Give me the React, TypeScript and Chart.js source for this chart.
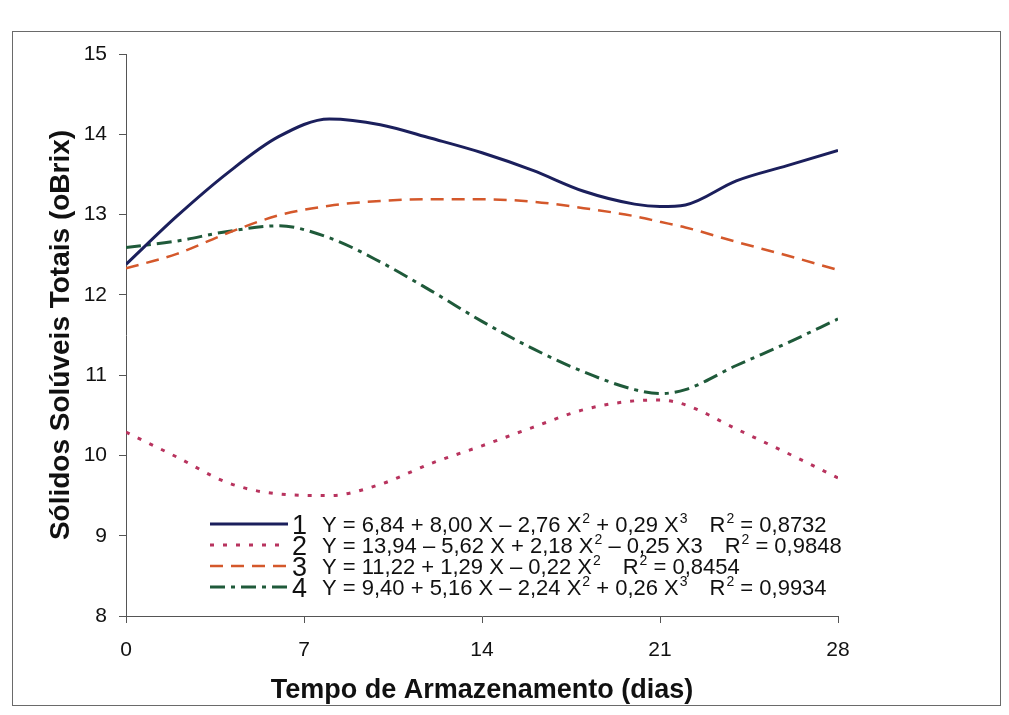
import React, { useEffect, useRef } from "react";
import { Chart, registerables } from "chart.js";

Chart.register(...registerables);

// ---- data ----
const days = [0, 2, 4, 6, 8, 10, 12, 14, 16, 18, 20, 21, 22, 24, 26, 28];
const serie1 = [12.38, 12.98, 13.52, 13.97, 14.19, 14.12, 13.95, 13.77, 13.55, 13.29, 13.13, 13.1, 13.12, 13.42, 13.61, 13.8];
const serie2 = [10.29, 9.98, 9.66, 9.52, 9.5, 9.64, 9.9, 10.12, 10.35, 10.57, 10.68, 10.69, 10.63, 10.33, 10.03, 9.72];
const serie3 = [12.33, 12.51, 12.77, 12.99, 13.11, 13.17, 13.19, 13.19, 13.16, 13.08, 12.98, 12.91, 12.84, 12.66, 12.49, 12.31];
const serie4 = [12.59, 12.67, 12.79, 12.86, 12.71, 12.41, 12.05, 11.67, 11.33, 11.04, 10.82, 10.77, 10.82, 11.12, 11.4, 11.7];

const seriesNames = ["1", "2", "3", "4"];
const equations = [
  "Y = 6,84 + 8,00 X – 2,76 X^2 + 0,29 X^3",
  "Y = 13,94 – 5,62 X + 2,18 X^2 – 0,25 X3",
  "Y = 11,22 + 1,29 X – 0,22 X^2",
  "Y = 9,40 + 5,16 X – 2,24 X^2 + 0,26 X^3",
];
const r2Labels = ["R^2 = 0,8732", "R^2 = 0,9848", "R^2 = 0,8454", "R^2 = 0,9934"];

const xTitle = "Tempo de Armazenamento (dias)";
const yTitle = "Sólidos Solúveis Totais (oBrix)";
const yMin = 8;
const yMax = 15;
const xMin = 0;
const xMax = 28;
const xStep = 7;

// ---- styles ----
const colors = ["#1b1f5c", "#b8335e", "#d4582b", "#1f5a3a"];
const dashes: number[][] = [[], [4, 9], [13, 8], [15, 6, 4, 6]];
const widths = [3, 3, 2.5, 3];
const FONT = "'Liberation Sans', Arial, sans-serif";

function drawRich(ctx: CanvasRenderingContext2D, text: string, x: number, y: number, size: number) {
  const parts = text.split(/(\^.)/);
  let cx = x;
  for (const p of parts) {
    if (!p) continue;
    if (p.startsWith("^")) {
      ctx.font = `${Math.round(size * 0.62)}px ${FONT}`;
      const s = p.slice(1);
      ctx.fillText(s, cx + 1, y - size * 0.42);
      cx += ctx.measureText(s).width + 1;
    } else {
      ctx.font = `${size}px ${FONT}`;
      ctx.fillText(p, cx, y);
      cx += ctx.measureText(p).width;
    }
  }
  return cx;
}

const framePlugin = {
  id: "frame",
  beforeDraw(chart: any) {
    const ctx = chart.ctx as CanvasRenderingContext2D;
    ctx.save();
    ctx.fillStyle = "#ffffff";
    ctx.fillRect(0, 0, chart.width, chart.height);
    ctx.strokeStyle = "#6a6a6a";
    ctx.lineWidth = 1;
    ctx.strokeRect(4.5, 23.5, 988, 674);
    ctx.restore();
  },
};

const legendPlugin = {
  id: "eqLegend",
  afterDraw(chart: any) {
    const ctx = chart.ctx as CanvasRenderingContext2D;
    ctx.save();
    const rowY = [516, 537, 558, 579];
    const eqSize = 22;
    const numSize = 27;
    seriesNames.forEach((name, i) => {
      const y = rowY[i];
      ctx.strokeStyle = colors[i];
      ctx.lineWidth = widths[i];
      ctx.setLineDash(dashes[i]);
      ctx.beginPath();
      ctx.moveTo(202, y);
      ctx.lineTo(280, y);
      ctx.stroke();
      ctx.setLineDash([]);
      ctx.fillStyle = "#111";
      ctx.textBaseline = "alphabetic";
      ctx.font = `${numSize}px ${FONT}`;
      ctx.fillText(name, 284, y + numSize * 0.36);
      const end = drawRich(ctx, equations[i], 314, y + eqSize * 0.36, eqSize);
      drawRich(ctx, r2Labels[i], end + 22, y + eqSize * 0.36, eqSize);
    });
    ctx.restore();
  },
};

export default function App() {
  const ref = useRef<HTMLCanvasElement | null>(null);

  useEffect(() => {
    if (!ref.current) return;
    const all = [serie1, serie2, serie3, serie4];
    const chart = new Chart(ref.current, {
      type: "line",
      data: {
        datasets: all.map((s, i) => ({
          label: seriesNames[i],
          data: days.map((d, k) => ({ x: d, y: s[k] })),
          borderColor: colors[i],
          borderWidth: widths[i],
          borderDash: dashes[i],
          borderCapStyle: "butt" as const,
          pointRadius: 0,
          fill: false,
          cubicInterpolationMode: "monotone" as const,
        })),
      },
      options: {
        animation: false,
        responsive: false,
        maintainAspectRatio: false,
        layout: { padding: { left: 30, right: 163, top: 46, bottom: 0 } },
        plugins: { legend: { display: false }, tooltip: { enabled: false } },
        scales: {
          x: {
            type: "linear",
            min: xMin,
            max: xMax,
            afterFit: (s: any) => {
              s.height = 91;
            },
            ticks: {
              stepSize: xStep,
              color: "#111",
              font: { family: FONT, size: 21 },
              padding: 15,
            },
            grid: { display: true, drawOnChartArea: false, drawTicks: true, tickLength: 7, color: "#555" },
            border: { display: true, color: "#555", width: 1 },
            title: {
              display: true,
              text: xTitle,
              color: "#111",
              font: { family: FONT, size: 27, weight: "bold" },
              padding: { top: 0, bottom: 0 },
            },
          },
          y: {
            min: yMin,
            max: yMax,
            afterFit: (s: any) => {
              s.width = 88;
            },
            ticks: {
              stepSize: 1,
              color: "#111",
              font: { family: FONT, size: 21 },
              padding: 12,
            },
            grid: { display: true, drawOnChartArea: false, drawTicks: true, tickLength: 7, color: "#555" },
            border: { display: true, color: "#555", width: 1 },
            title: {
              display: true,
              text: yTitle,
              color: "#111",
              font: { family: FONT, size: 28, weight: "bold" },
              padding: { top: 6, bottom: 0 },
            },
          },
        },
      },
      plugins: [framePlugin, legendPlugin],
    });
    return () => chart.destroy();
  }, []);

  return (
    <div style={{ width: 993, height: 699 }}>
      <canvas ref={ref} width={993} height={699} style={{ display: "block" }} />
    </div>
  );
}
